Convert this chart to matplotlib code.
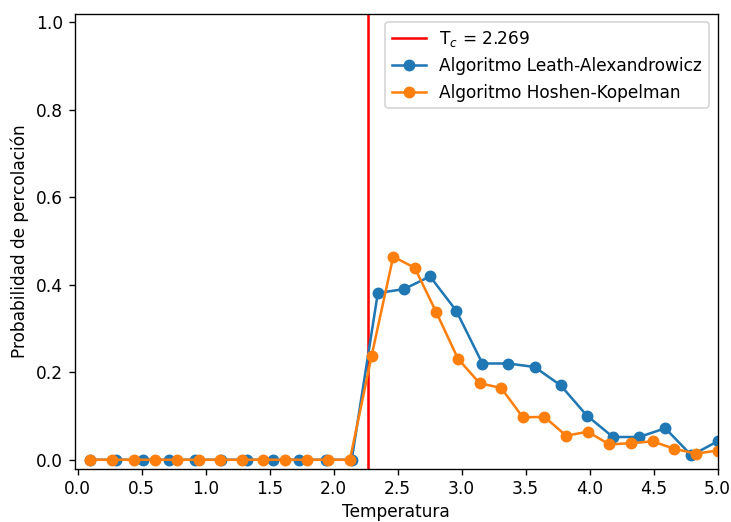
import matplotlib
matplotlib.use("Agg")
import matplotlib.pyplot as plt

Tc = 2.269

T_leath = [0.1, 0.304, 0.508, 0.712, 0.917, 1.121, 1.325, 1.529, 1.733, 1.938,
           2.142, 2.346, 2.550, 2.754, 2.958, 3.163, 3.367, 3.571, 3.775, 3.979,
           4.183, 4.388, 4.592, 4.796, 5.0]
P_leath = [0, 0, 0, 0, 0, 0, 0, 0, 0, 0,
           0, 0.381, 0.390, 0.419, 0.341, 0.220, 0.220, 0.212, 0.170, 0.101,
           0.052, 0.052, 0.072, 0.010, 0.042]

T_hk = [0.1, 0.269, 0.438, 0.607, 0.776, 0.945, 1.114, 1.283, 1.452, 1.621,
        1.790, 1.959, 2.128, 2.297, 2.466, 2.634, 2.803, 2.972, 3.141, 3.310,
        3.479, 3.648, 3.817, 3.986, 4.155, 4.324, 4.493, 4.662, 4.831, 5.0]
P_hk = [0, 0, 0, 0, 0, 0, 0, 0, 0, 0,
        0, 0, 0, 0.237, 0.464, 0.439, 0.337, 0.231, 0.175, 0.164,
        0.097, 0.098, 0.055, 0.064, 0.035, 0.038, 0.042, 0.025, 0.014, 0.021]

DPI = 122
W, H = 731, 522
fig = plt.figure(figsize=(W / DPI, H / DPI), dpi=DPI)
ax = fig.add_axes([75 / W, 1 - 468.5 / H, (717.5 - 75) / W, (468.5 - 13.5) / H])

ax.axvline(Tc, color='red', label=r'T$_c$ = 2.269')
ax.plot(T_leath, P_leath, 'o-', color='#1f77b4', label='Algoritmo Leath-Alexandrowicz')
ax.plot(T_hk, P_hk, 'o-', color='#ff7f0e', label='Algoritmo Hoshen-Kopelman')

ax.set_xlim(-0.02, 5.0)
ax.set_ylim(-0.02, 1.02)
ax.set_xticks([0.0, 0.5, 1.0, 1.5, 2.0, 2.5, 3.0, 3.5, 4.0, 4.5, 5.0])
ax.set_yticks([0.0, 0.2, 0.4, 0.6, 0.8, 1.0])
ax.set_xlabel('Temperatura', labelpad=2.5)
ax.set_ylabel('Probabilidad de percolación')
ax.legend(loc='upper right')

fig.savefig('out.png', dpi=DPI)
